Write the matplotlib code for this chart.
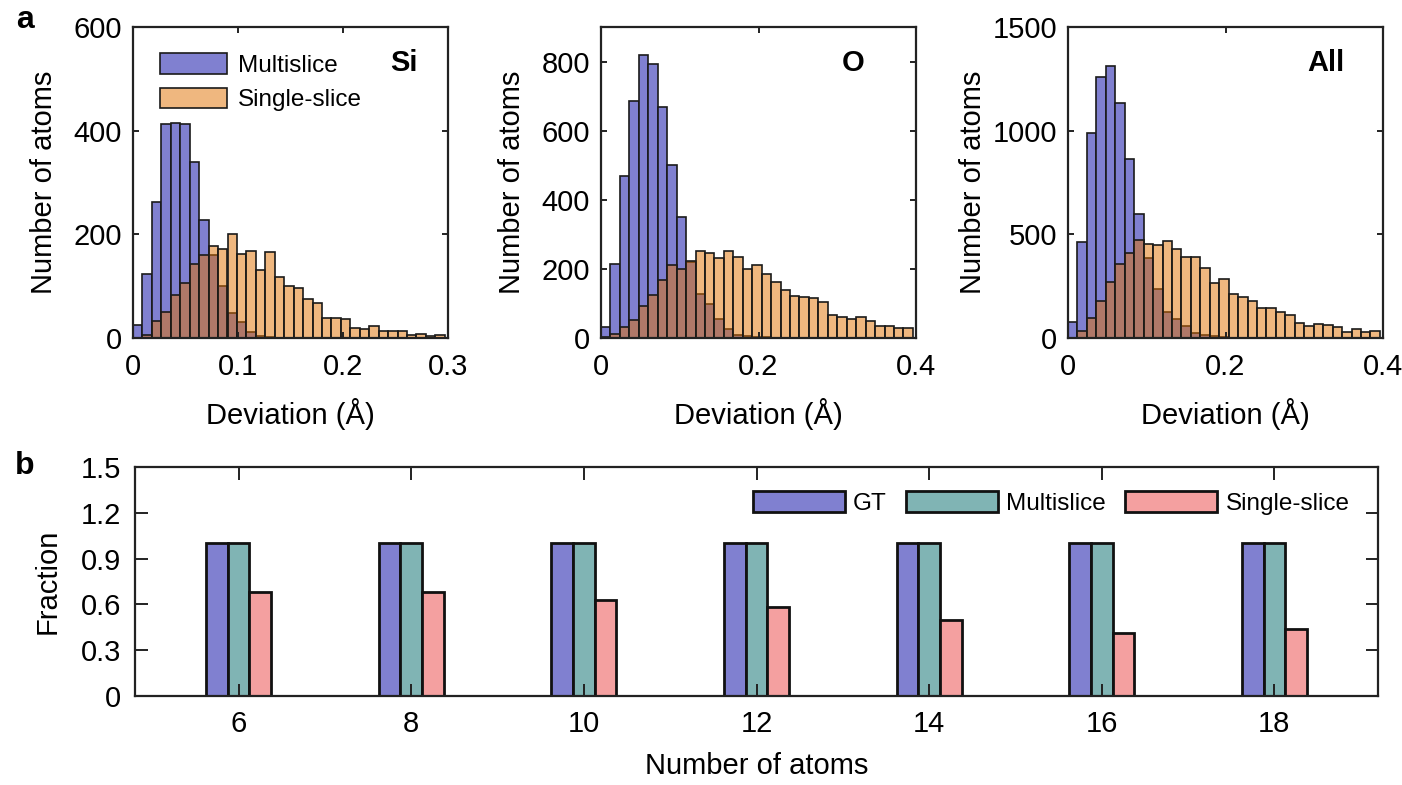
import numpy as np
import matplotlib
matplotlib.use('Agg')
import matplotlib.pyplot as plt

plt.rcParams['font.family'] = ['Liberation Sans', 'DejaVu Sans']

# histogram counts per bin (Multislice vs Single-slice)
si_multi = [26, 124, 262, 413, 414, 413, 340, 228, 160, 101, 49, 31, 11, 3, 1,
            0, 0, 0, 0, 0, 0, 0, 0, 0, 0, 0, 0, 0, 0, 0, 0, 0, 0]
si_single = [0, 6, 32, 51, 82, 106, 143, 160, 178, 172, 200, 163, 167, 131, 165,
             117, 101, 97, 75, 67, 39, 38, 37, 20, 17, 24, 14, 14, 13, 5, 8, 3, 5]
o_multi = [32, 215, 470, 685, 819, 793, 668, 500, 350, 220, 126, 97, 56, 27, 10,
           6, 4, 2, 0, 0, 0, 0, 0, 0, 0, 0, 0, 0, 0, 0, 0, 0, 0]
o_single = [3, 12, 33, 53, 94, 123, 169, 211, 199, 222, 253, 245, 231, 251, 233,
            200, 211, 186, 162, 138, 122, 119, 115, 103, 66, 60, 55, 60, 48, 36, 36, 30, 28]
all_multi = [79, 465, 987, 1260, 1313, 1132, 865, 600, 387, 235, 127, 92, 58, 26, 14,
             8, 4, 2, 0, 0, 0, 0, 0, 0, 0, 0, 0, 0, 0, 0, 0, 0, 0]
all_single = [2, 35, 98, 178, 272, 358, 412, 473, 451, 450, 466, 428, 389, 392, 338,
              264, 283, 212, 196, 178, 147, 146, 124, 112, 72, 59, 67, 61, 54, 29, 43, 29, 33]

# fraction of correctly recovered structures
n_atoms = [6, 8, 10, 12, 14, 16, 18]
frac_gt = [1.0, 1.0, 1.0, 1.0, 1.0, 1.0, 1.0]
frac_multi = [1.0, 1.0, 1.0, 1.0, 1.0, 1.0, 1.0]
frac_single = [0.68, 0.68, 0.63, 0.58, 0.50, 0.41, 0.44]

BLUE = '#8080d0'
ORANGE = (225 / 255, 113 / 255, 1 / 255, 0.5)
TEAL = '#80b4b4'
PINK = '#f4a0a0'
FS = 21

fig = plt.figure(figsize=(14.02, 7.85), dpi=100)
W, H = 1402, 785


def px_axes(left, top, right, bottom):
    return fig.add_axes([left / W, 1 - bottom / H, (right - left) / W, (bottom - top) / H])


def style(ax, ticklen, pad=8):
    for s in ax.spines.values():
        s.set_linewidth(1.6)
        s.set_color('#222222')
    ax.tick_params(direction='in', top=True, right=True, length=ticklen, width=1.4,
                   labelsize=FS, pad=pad, color='#222222')


panels = [
    ('Si', si_multi, si_single, 0.009, 133, [0, 0.1, 0.2, 0.3], ['0', '0.1', '0.2', '0.3'],
     0.3, [0, 200, 400, 600], 600, 0.905, 11),
    ('O', o_multi, o_single, 0.012, 601, [0, 0.2, 0.4], ['0', '0.2', '0.4'],
     0.4, [0, 200, 400, 600, 800], 900, 0.838, 11),
    ('All', all_multi, all_single, 0.012, 1068, [0, 0.2, 0.4], ['0', '0.2', '0.4'],
     0.4, [0, 500, 1000, 1500], 1500, 0.879, 4),
]

for i, (name, multi, single, bw, left, xt, xtl, xmax, yt, ymax, tx, ypad) in enumerate(panels):
    ax = px_axes(left, 27, left + 315, 338)
    edges = np.arange(len(multi)) * bw
    ax.bar(edges, multi, width=bw, align='edge', color=BLUE, edgecolor='#1a1a1a',
           linewidth=1.2, label='Multislice')
    ax.bar(edges, single, width=bw, align='edge', color=ORANGE, edgecolor='#1a1a1a',
           linewidth=1.2, label='Single-slice')
    ax.set_xlim(0, xmax)
    ax.set_ylim(0, ymax)
    ax.set_xticks(xt)
    ax.set_xticklabels(xtl)
    ax.set_yticks(yt)
    style(ax, 4)
    ax.tick_params(axis='x', pad=11)
    ax.set_xlabel('Deviation (Å)', fontsize=FS, labelpad=12)
    ax.set_ylabel('Number of atoms', fontsize=FS, labelpad=ypad)
    ax.text(tx, 0.884, name, transform=ax.transAxes, ha='right', va='center',
            fontsize=FS, fontweight='bold')
    if i == 0:
        ax.legend(loc='upper left', bbox_to_anchor=(0.086, 0.915), frameon=False,
                  fontsize=17.5, handlelength=2.76, handleheight=0.9,
                  handletextpad=0.45, labelspacing=0.45, borderpad=0,
                  borderaxespad=0)

# panel b: grouped bars
axb = px_axes(135, 467, 1378, 696)
x = np.array(n_atoms, dtype=float)
bw = 0.25
axb.bar(x - bw, frac_gt, width=bw, color=BLUE, edgecolor='#111111', linewidth=2, label='GT')
axb.bar(x, frac_multi, width=bw, color=TEAL, edgecolor='#111111', linewidth=2,
        label='Multislice')
axb.bar(x + bw, frac_single, width=bw, color=PINK, edgecolor='#111111', linewidth=2,
        label='Single-slice')
axb.set_xlim(4.8, 19.2)
axb.set_ylim(0, 1.5)
axb.set_xticks(n_atoms)
axb.set_yticks([0, 0.3, 0.6, 0.9, 1.2, 1.5])
axb.set_yticklabels(['0', '0.3', '0.6', '0.9', '1.2', '1.5'])
style(axb, 9, pad=10)
axb.set_xlabel('Number of atoms', fontsize=FS, labelpad=10)
axb.set_ylabel('Fraction', fontsize=FS, labelpad=14)
axb.legend(loc='upper right', bbox_to_anchor=(0.977, 0.895), ncol=3, frameon=False,
           fontsize=17.5, handlelength=3.8, handleheight=0.95, handletextpad=0.33,
           columnspacing=0.78, borderpad=0, borderaxespad=0)

fig.text(25 / W, 1 - 20 / H, 'a', fontsize=23, fontweight='bold', ha='center', va='center')
fig.text(25 / W, 1 - 466 / H, 'b', fontsize=23, fontweight='bold', ha='center', va='center')

fig.savefig('out.png', dpi=100)
